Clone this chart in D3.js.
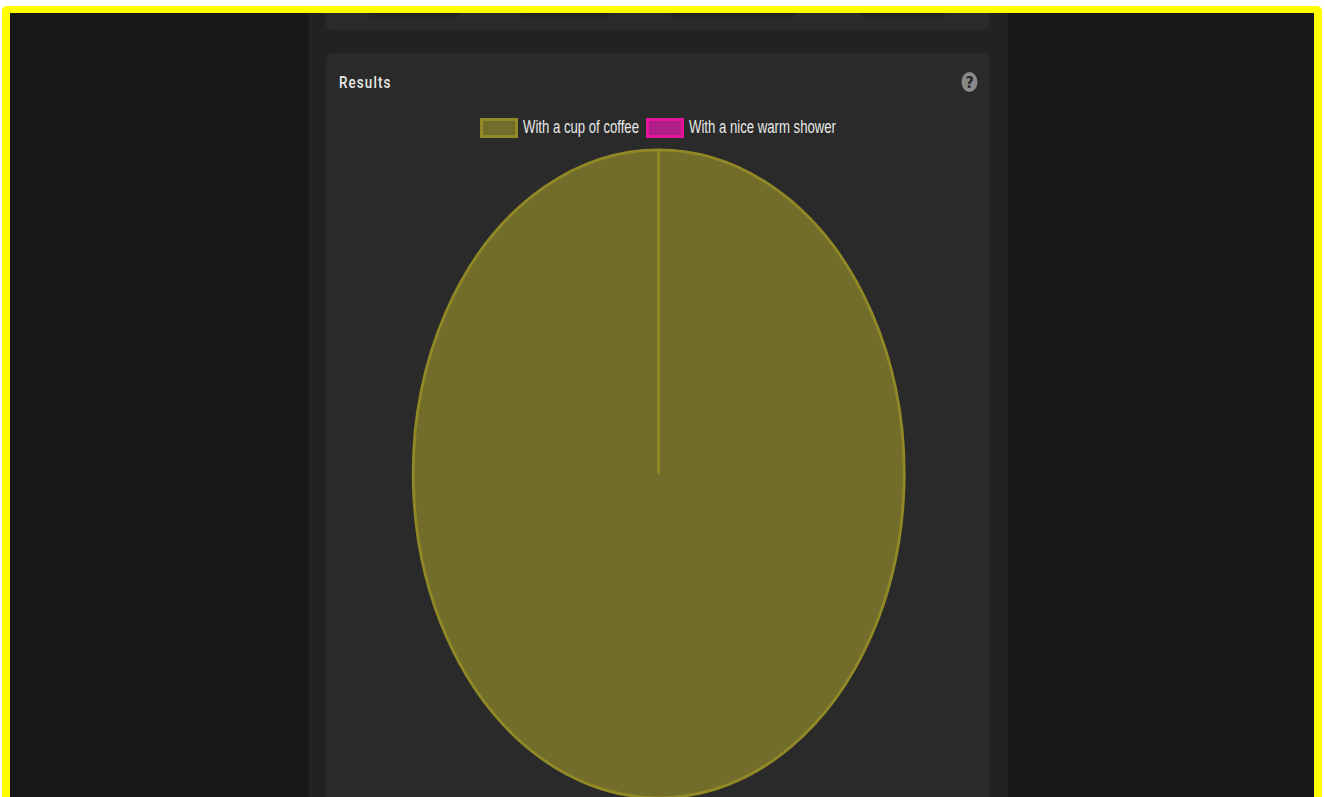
<!DOCTYPE html>
<html>
<head>
<meta charset="utf-8">
<title>Results</title>
<script src="https://cdn.jsdelivr.net/npm/d3@7"></script>
<style>
  html, body { margin: 0; padding: 0; background: #fff; overflow: hidden; }
  svg { display: block; }
  .title { font: 500 16px Roboto, sans-serif; letter-spacing: 1.3px; fill: #e6e6e6; }
  .legend-label { font: 18px "Liberation Sans", Arial, sans-serif; fill: #e8e8e8; }
</style>
</head>
<body>
<svg id="chart" width="1325" height="797"></svg>
<script>
// chart data
const categories = ['With a cup of coffee', 'With a nice warm shower'];
const votes = [100, 0];
const fillColors = ['#736d2c', '#b01d87'];
const borderColors = ['#918926', '#e6149d'];

const
  pieCx = 658.7,      // pie is stretched by the page, so two radii
  pieCy = 473.8,
  pieRx = 245.5,
  pieRy = 324,
  legendY = 118,
  boxWidth = 38,
  boxHeight = 20;
const legendBoxX = [480, 646];
const legendTextX = [523, 689];
const legendTextWidth = [116, 147];

const svg = d3.select('#chart');

// =====================
// Page frame and panels
// =====================
svg.append('rect').attr('x', 2).attr('y', 6).attr('width', 1320).attr('height', 800).attr('rx', 5).attr('fill', '#ffff00');
svg.append('rect').attr('x', 10).attr('y', 13).attr('width', 1304).attr('height', 790).attr('fill', '#181818');

const defs = svg.append('defs');
defs.append('clipPath').attr('id', 'inner')
  .append('rect').attr('x', 10).attr('y', 13).attr('width', 1304).attr('height', 790);
const blur = defs.append('filter').attr('id', 'soft').attr('x', '-20%').attr('y', '-100%').attr('width', '140%').attr('height', '300%');
blur.append('feGaussianBlur').attr('stdDeviation', 1.5);

const page = svg.append('g').attr('clip-path', 'url(#inner)');
page.append('rect').attr('x', 309).attr('y', 0).attr('width', 699).attr('height', 800).attr('fill', '#222222');

// panel above, only its bottom edge is in view
page.append('rect').attr('x', 326).attr('y', -60).attr('width', 664).attr('height', 90).attr('rx', 6).attr('fill', '#2a2a2a');
[[370, 90], [520, 90], [670, 126], [860, 86]].forEach(s => {
  page.append('rect').attr('x', s[0]).attr('y', 8).attr('width', s[1]).attr('height', 7)
    .attr('fill', '#1e1e1e').attr('filter', 'url(#soft)');
});

// results panel
page.append('rect').attr('x', 326).attr('y', 53).attr('width', 664).attr('height', 780).attr('rx', 6).attr('fill', '#2a2a2a');

page.append('text').attr('class', 'title')
  .attr('transform', 'translate(339,88) scale(0.84,1)')
  .text('Results');

// help icon
page.append('ellipse').attr('cx', 969.5).attr('cy', 82).attr('rx', 8).attr('ry', 10).attr('fill', '#8a8a8a');
page.append('text').attr('x', 969.5).attr('y', 88).attr('text-anchor', 'middle')
  .style('font', '700 15px "DejaVu Sans", sans-serif').attr('fill', '#2a2a2a').text('?');

// =====================
// Legend
// =====================
const fillScale = d3.scaleOrdinal(categories, fillColors);
const borderScale = d3.scaleOrdinal(categories, borderColors);

const legend = page.selectAll('.legend')
  .data(categories)
  .enter()
  .append('g')
  .attr('class', 'legend');

legend.append('rect')
  .attr('x', (d, i) => legendBoxX[i] + 1.5)
  .attr('y', legendY + 1.5)
  .attr('width', boxWidth - 3)
  .attr('height', boxHeight - 3)
  .attr('fill', d => fillScale(d))
  .attr('stroke', d => borderScale(d))
  .attr('stroke-width', 3);

legend.append('text')
  .attr('class', 'legend-label')
  .attr('x', (d, i) => legendTextX[i])
  .attr('y', legendY + 15)
  .attr('textLength', (d, i) => legendTextWidth[i])
  .attr('lengthAdjust', 'spacingAndGlyphs')
  .text(d => d);

// =====================
// Pie
// =====================
const slices = d3.pie().sort(null)(votes);
const arc = d3.arc()
  .digits(8)          // unit radius, default rounding would collapse the nearly full arc
  .innerRadius(0)
  .outerRadius(1)
  .startAngle(d => d.startAngle)
  .endAngle(d => Math.min(d.endAngle, 2 * Math.PI - 1e-5));   // keep the radial edge of a full slice

// later slices go underneath, the empty one must not show over the coffee edge
page.append('g')
  .attr('transform', 'translate(' + pieCx + ',' + pieCy + ') scale(' + pieRx + ',' + pieRy + ')')
  .selectAll('path')
  .data(slices.slice().reverse())
  .enter()
  .append('path')
  .attr('d', arc)
  .attr('fill', d => fillColors[d.index])
  .attr('stroke', d => borderColors[d.index])
  .attr('stroke-width', 2.8)
  .attr('stroke-linejoin', 'bevel')
  .attr('vector-effect', 'non-scaling-stroke');
</script>
</body>
</html>
